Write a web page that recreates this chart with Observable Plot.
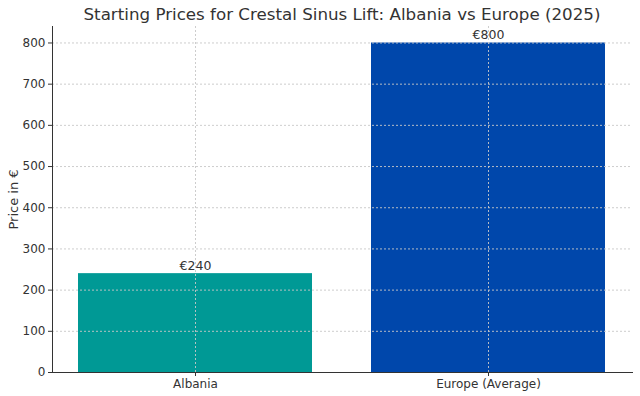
<!DOCTYPE html>
<html>
<head>
<meta charset="utf-8">
<script src="https://cdn.jsdelivr.net/npm/d3@7"></script>
<script src="https://cdn.jsdelivr.net/npm/@observablehq/plot@0.6"></script>
<style>
  body { margin: 0; background: #fff; font-family: "DejaVu Sans", sans-serif; }
  #title { height: 26px; box-sizing: border-box; padding-left: 44px; text-align: center;
           font-size: 16.7px; color: #333; line-height: 28px; white-space: nowrap; }
</style>
</head>
<body>
<div id="title">Starting Prices for Crestal Sinus Lift: Albania vs Europe (2025)</div>
<div id="chart"></div>
<script>
const categories = ["Albania", "Europe (Average)"];
const prices = [240, 800];
const colors = ["#009995", "#0047AB"];
const yTicks = [0, 100, 200, 300, 400, 500, 600, 700, 800];

const data = categories.map((c, i) => ({category: c, price: prices[i], color: colors[i]}));

const plot = Plot.plot({
  width: 640,
  height: 370,
  marginTop: 0,
  marginLeft: 52,
  marginRight: 8,
  marginBottom: 24,
  style: {fontFamily: "DejaVu Sans, sans-serif", fontSize: "12px", color: "#333", background: "#fff"},
  x: {domain: categories, paddingInner: 0.2, paddingOuter: 0.088, label: null},
  y: {domain: [0, 840], label: null},
  marks: [
    Plot.barY(data, {x: "category", y: "price", fill: "color"}),
    Plot.gridY(yTicks, {stroke: "#c8c8c8", strokeOpacity: 0.9, strokeDasharray: "2,2"}),
    Plot.gridX(categories, {stroke: "#c8c8c8", strokeOpacity: 0.9, strokeDasharray: "2,2"}),
    Plot.axisY(yTicks, {tickSize: 4, tickPadding: 3, fontSize: 12, fill: "#333", stroke: "#333", label: null}),
    Plot.axisX({tickSize: 4, tickPadding: 3, fontSize: 12, fill: "#333", stroke: "#333", label: null}),
    Plot.frame({anchor: "left", stroke: "#333"}),
    Plot.frame({anchor: "bottom", stroke: "#333"}),
    Plot.text(data, {x: "category", y: "price", text: d => "€" + d.price, dy: -8, fontSize: 12.5, fill: "#333"}),
    Plot.text(["Price in €"], {frameAnchor: "left", textAnchor: "middle", rotate: -90, dx: -39, fontSize: 13, fill: "#333"})
  ]
});
document.getElementById("chart").appendChild(plot);
</script>
</body>
</html>
